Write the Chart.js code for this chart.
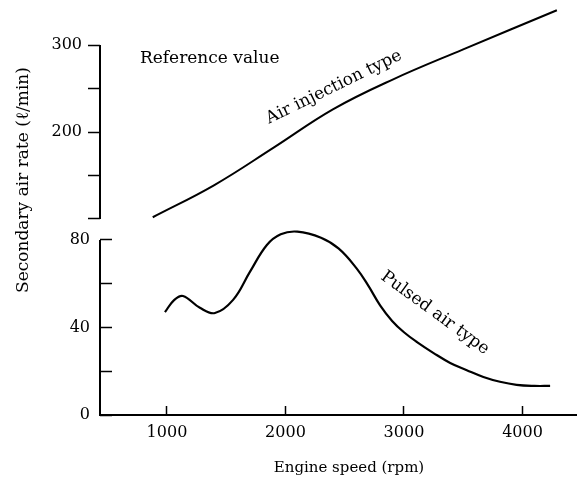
<!DOCTYPE html>
<html>
<head>
<meta charset="utf-8">
<script src="https://cdn.jsdelivr.net/npm/chart.js@4.4.1/dist/chart.umd.min.js"></script>
<style>
  html, body { margin: 0; padding: 0; background: #fff; }
  canvas { display: block; }
</style>
</head>
<body>
<canvas id="airChart" width="577" height="485"></canvas>
<script>
// Values: engine speed (rpm) vs secondary air rate (l/min)
const airInjectionRpm = [880, 1400, 1900, 2400, 2900, 3500, 4290];
const airInjectionRate = [102, 139, 182, 226, 260, 295, 340];

const pulsedRpm = [983, 1060, 1135, 1278, 1405, 1558, 1700, 1843, 1960, 2100, 2300, 2450, 2600, 2700, 2800, 2900, 3000, 3110, 3250, 3390, 3530, 3670, 3810, 3950, 4100, 4233];
const pulsedRate = [47, 52.5, 54.4, 49, 46.6, 52.6, 65.4, 77.7, 82.6, 83.8, 81, 76, 67, 59, 50, 43, 37.8, 33.3, 28.3, 23.8, 20.5, 17.4, 15.2, 13.8, 13.3, 13.3];

// Axis ticks (broken y axis: lower part 0-80, upper part 100-300)
const speedTicks = [1000, 2000, 3000, 4000];
const lowerTicks = [0, 20, 40, 60, 80];
const lowerLabels = ['0', '', '40', '', '80'];
const upperTicks = [100, 150, 200, 250, 300];
const upperLabels = ['', '', '200', '', '300'];

const serif = '"DejaVu Serif", "Liberation Serif", serif';
const ink = '#000';

function toPoints(xs, ys) {
    return xs.map((x, i) => ({ x: x, y: ys[i] }));
}

function fixedTicks(values) {
    return scale => { scale.ticks = values.map(v => ({ value: v })); };
}

// No extra label padding around the axes, the plot area is set by the sizes below
function fitY(scale) {
    scale.width = 100;
    scale.paddingTop = 0;
    scale.paddingBottom = 0;
}

function fitX(scale) {
    scale.height = 70;
    scale.paddingLeft = 0;
    scale.paddingRight = 0;
}

// Free text and the two short y axis lines of the broken axis
const figureText = {
    id: 'figureText',
    afterDraw(chart) {
        const { ctx, scales } = chart;
        const x = scales.x, lo = scales.y, up = scales.yTop;
        const left = chart.chartArea.left;

        ctx.save();
        ctx.strokeStyle = ink;
        ctx.lineWidth = 2;
        ctx.beginPath();
        ctx.moveTo(left, up.getPixelForValue(upperTicks[0]));
        ctx.lineTo(left, up.getPixelForValue(upperTicks[upperTicks.length - 1]));
        ctx.moveTo(left, lo.getPixelForValue(lowerTicks[0]) + 1);
        ctx.lineTo(left, lo.getPixelForValue(lowerTicks[lowerTicks.length - 1]));
        ctx.stroke();

        ctx.fillStyle = ink;
        ctx.font = '17px ' + serif;
        ctx.textBaseline = 'alphabetic';

        ctx.textAlign = 'left';
        ctx.fillText('Reference value', x.getPixelForValue(772), up.getPixelForValue(279));

        ctx.textAlign = 'center';
        ctx.save();
        ctx.translate(x.getPixelForValue(2426), up.getPixelForValue(247));
        ctx.rotate(-26 * Math.PI / 180);
        ctx.fillText('Air injection type', 0, 0);
        ctx.restore();

        ctx.save();
        ctx.translate(x.getPixelForValue(3240), lo.getPixelForValue(45));
        ctx.rotate(36 * Math.PI / 180);
        ctx.fillText('Pulsed air type', 0, 0);
        ctx.restore();

        ctx.textBaseline = 'middle';
        ctx.save();
        ctx.translate(24, 180);
        ctx.rotate(-Math.PI / 2);
        ctx.fillText('Secondary air rate (\u2113/min)', 0, 0);
        ctx.restore();

        ctx.font = '15px ' + serif;
        ctx.fillText('Engine speed (rpm)', 349, 468);
        ctx.restore();
    }
};

const ctx = document.getElementById('airChart').getContext('2d');
const airChart = new Chart(ctx, {
    type: 'line',
    data: {
        datasets: [{
            label: 'Air injection type',
            data: toPoints(airInjectionRpm, airInjectionRate),
            yAxisID: 'yTop',
            borderColor: ink,
            borderWidth: 2,
            pointRadius: 0,
            tension: 0.4
        }, {
            label: 'Pulsed air type',
            data: toPoints(pulsedRpm, pulsedRate),
            yAxisID: 'y',
            borderColor: ink,
            borderWidth: 2.2,
            pointRadius: 0,
            tension: 0.4
        }]
    },
    options: {
        responsive: false,
        animation: false,
        devicePixelRatio: 1,
        layout: { padding: { top: 5, right: 0, left: 0, bottom: 0 } },
        plugins: {
            legend: { display: false },
            tooltip: { enabled: false }
        },
        scales: {
            x: {
                type: 'linear',
                min: 435,
                max: 4460,
                afterBuildTicks: fixedTicks(speedTicks),
                afterFit: fitX,
                grid: { drawOnChartArea: false, tickLength: -9, tickColor: ink, tickWidth: 1.5 },
                border: { display: true, color: ink, width: 2 },
                ticks: {
                    padding: 17,
                    color: ink,
                    autoSkip: false,
                    maxRotation: 0,
                    font: { family: serif, size: 16 },
                    callback: v => String(v)
                }
            },
            y: {
                type: 'linear',
                position: 'left',
                stack: 'air',
                stackWeight: 186,
                min: 0,
                max: 85,
                afterBuildTicks: fixedTicks(lowerTicks),
                afterFit: fitY,
                grid: { drawOnChartArea: false, tickLength: -12, tickColor: ink, tickWidth: 1.5 },
                border: { display: false },
                ticks: {
                    padding: 22,
                    color: ink,
                    autoSkip: false,
                    font: { family: serif, size: 16 },
                    callback: (v, i) => lowerLabels[i]
                }
            },
            yTop: {
                type: 'linear',
                position: 'left',
                stack: 'air',
                stackWeight: 224,
                min: 88.5,
                max: 346,
                afterBuildTicks: fixedTicks(upperTicks),
                afterFit: fitY,
                grid: { drawOnChartArea: false, tickLength: 12, tickColor: ink, tickWidth: 1.5 },
                border: { display: false },
                ticks: {
                    padding: 6,
                    color: ink,
                    autoSkip: false,
                    font: { family: serif, size: 16 },
                    callback: (v, i) => upperLabels[i]
                }
            }
        }
    },
    plugins: [figureText]
});
</script>
</body>
</html>
